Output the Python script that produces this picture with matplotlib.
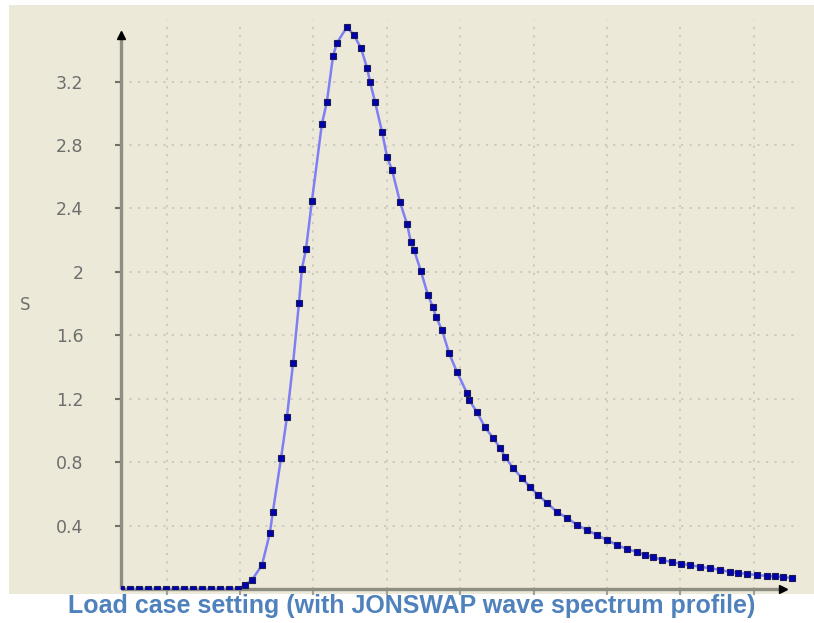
import matplotlib
matplotlib.use('Agg')
import matplotlib.pyplot as plt
from matplotlib.patches import Rectangle

# wave frequency (rad/s) and spectral density S
omega = [0.095, 0.125, 0.156, 0.187, 0.217, 0.248, 0.279, 0.309, 0.340, 0.371,
         0.401, 0.432, 0.463, 0.493, 0.517, 0.541, 0.575, 0.602, 0.612, 0.640,
         0.660, 0.681, 0.701, 0.711, 0.725, 0.745, 0.779, 0.796, 0.817, 0.830,
         0.864, 0.888, 0.912, 0.933, 0.943, 0.960, 0.984, 1.001, 1.018, 1.045,
         1.069, 1.082, 1.093, 1.116, 1.140, 1.157, 1.168, 1.188, 1.212, 1.239,
         1.273, 1.280, 1.307, 1.334, 1.362, 1.386, 1.403, 1.430, 1.460, 1.488,
         1.515, 1.546, 1.580, 1.614, 1.648, 1.682, 1.716, 1.750, 1.784, 1.818,
         1.852, 1.879, 1.907, 1.937, 1.971, 2.002, 2.033, 2.067, 2.101, 2.135,
         2.169, 2.196, 2.227, 2.261, 2.295, 2.322, 2.349, 2.380]
S = [0.0, 0.0, 0.0, 0.0, 0.0, 0.0, 0.0, 0.0, 0.0, 0.0,
     0.0, 0.0, 0.0, 0.0, 0.025, 0.057, 0.151, 0.353, 0.486, 0.826,
     1.084, 1.425, 1.803, 2.018, 2.144, 2.446, 2.932, 3.071, 3.361, 3.443,
     3.543, 3.493, 3.411, 3.285, 3.197, 3.071, 2.881, 2.724, 2.642, 2.440,
     2.301, 2.188, 2.137, 2.005, 1.854, 1.778, 1.715, 1.633, 1.488, 1.368,
     1.236, 1.192, 1.116, 1.021, 0.952, 0.889, 0.832, 0.763, 0.700, 0.643,
     0.593, 0.542, 0.485, 0.448, 0.404, 0.372, 0.340, 0.309, 0.277, 0.252,
     0.233, 0.214, 0.202, 0.183, 0.170, 0.158, 0.151, 0.139, 0.132, 0.120,
     0.107, 0.101, 0.095, 0.088, 0.082, 0.079, 0.076, 0.069]

x_grid = [0.25, 0.5, 0.75, 1.0, 1.25, 1.5, 1.75, 2.0, 2.25]
y_ticks = [0.4, 0.8, 1.2, 1.6, 2.0, 2.4, 2.8, 3.2]
y_labels = ['0.4', '0.8', '1.2', '1.6', '2', '2.4', '2.8', '3.2']

bg = '#ECE9D8'
fig = plt.figure(figsize=(8.14, 6.23), dpi=100, facecolor='white')
# beige panel behind the chart
fig.patches.append(Rectangle((9 / 814, 1 - 594 / 623), 805 / 814, 589 / 623,
                             transform=fig.transFigure, facecolor=bg,
                             edgecolor='none', zorder=-10))

ax = fig.add_axes([121 / 814, 34 / 623, 679 / 814, 569 / 623])
ax.set_facecolor(bg)
ax.set_xlim(0.095, 2.407)
ax.set_ylim(0, 3.588)

for s in ax.spines.values():
    s.set_visible(False)

# dotted grid
grid_kw = dict(color='#c9c8bf', lw=1.3, linestyle=(0, (1.2, 3.5)), zorder=1)
for g in x_grid:
    ax.axvline(g, **grid_kw)
for g in y_ticks:
    ax.axhline(g, **grid_kw)

# axis lines with arrow heads
ax.plot([0, 0], [0, 0.974], transform=ax.transAxes, color='#8f8e82', lw=2.4,
        clip_on=False, zorder=3, solid_capstyle='butt')
ax.plot([0, 0.975], [0, 0], transform=ax.transAxes, color='#8f8e82', lw=2.4,
        clip_on=False, zorder=3, solid_capstyle='butt')
ax.plot([0], [0.974], marker='^', color='black', ms=6, transform=ax.transAxes,
        clip_on=False, zorder=4)
ax.plot([0.975], [0], marker='>', color='black', ms=6, transform=ax.transAxes,
        clip_on=False, zorder=4)

# spectrum curve
ax.plot(omega, S, color='#7f7ff5', lw=1.8, zorder=5,
        marker='s', ms=4.2, mfc='#0000b0', mec='#1c1c58', mew=0.8)

ax.set_yticks(y_ticks)
ax.set_yticklabels(y_labels)
ax.set_xticks(x_grid)
ax.set_xticklabels([])
ax.tick_params(axis='y', length=4, width=1.5, color='#707068', pad=23,
               labelsize=12.5, labelcolor='#6e6e6e')
ax.tick_params(axis='x', length=4, width=1.5, color='#a0a098')

fig.text(25 / 814, 1 - 305 / 623, 'S', fontsize=12, color='#6e6e6e',
         ha='center', va='center')

fig.text(412 / 814, 1 - 606 / 623,
         'Load case setting (with JONSWAP wave spectrum profile)',
         fontsize=18, fontweight='bold', color='#4f81bd', ha='center',
         va='center', family='Liberation Sans')

plt.savefig('out.png', dpi=100, facecolor='white')
